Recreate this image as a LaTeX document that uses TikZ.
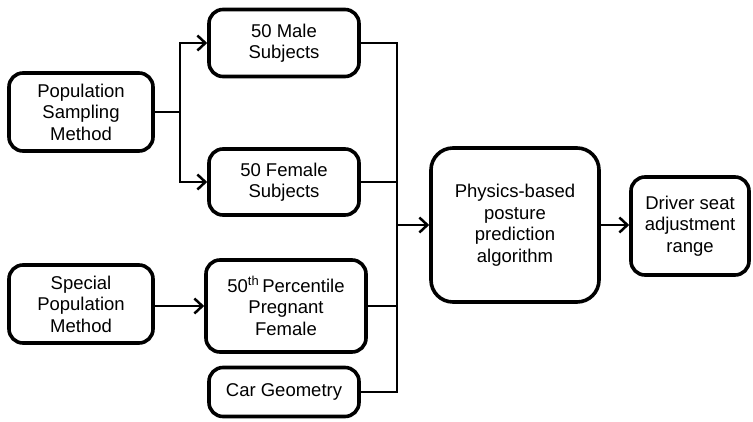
\documentclass[tikz,border=0pt]{standalone}
\usepackage{fontspec}
\setmainfont{Liberation Sans}
\usetikzlibrary{arrows.meta}

\tikzset{
  stagebox/.style={draw, line width=3.6pt, rounded corners=14pt, align=center,
    inner sep=2pt, font=\fontsize{18.5}{21.5}\selectfont},
  link/.style={line width=2.5pt},
  flow/.style={link, -{Straight Barb[length=8pt, width=15pt, line width=2.5pt]}}
}

\begin{document}
\begin{tikzpicture}[x=1pt, y=-1pt]
  \useasboundingbox (0,0) rectangle (753,421);

  % inputs
  \node[stagebox, minimum width=144pt, minimum height=78pt] (sampling) at (81,112) {Population\\Sampling\\Method};
  \node[stagebox, minimum width=144pt, minimum height=78pt] (special) at (81,304) {Special\\Population\\Method};

  % subject groups
  \node[stagebox, minimum width=150pt, minimum height=67pt] (male) at (284,43) {50 Male\\Subjects};
  \node[stagebox, minimum width=150pt, minimum height=66pt] (female) at (284,182) {50 Female\\Subjects};
  \node[stagebox, minimum width=160pt, minimum height=92pt] (pregnant) at (286,306) {50\textsuperscript{th}\,Percentile\\Pregnant\\Female};
  \node[stagebox, minimum width=150pt, minimum height=49pt] (car) at (284,392) {Car Geometry};

  % model and output
  \node[stagebox, minimum width=168pt, minimum height=154pt, rounded corners=22pt] (algorithm) at (515,225) {Physics-based\\posture\\prediction\\algorithm};
  \node[stagebox, minimum width=118pt, minimum height=98pt] (seat) at (690,226) {Driver seat\\adjustment\\range};

  \coordinate (split) at (180,112);
  \coordinate (bus) at (397,225);

  \draw[link] (sampling.east) -- (split);
  \draw[flow] (split) |- (male.west);
  \draw[flow] (split) |- (female.west);
  \draw[flow] (special.east |- pregnant.west) -- (pregnant.west);

  \draw[link] (male.east) -| (bus);
  \draw[link] (car.east) -| (bus);
  \draw[link] (female.east) -- (female.east -| bus);
  \draw[link] (pregnant.east) -- (pregnant.east -| bus);
  \draw[flow] (bus) -- (algorithm.west);
  \draw[flow] (algorithm.east) -- (algorithm.east -| seat.west);
\end{tikzpicture}
\end{document}
